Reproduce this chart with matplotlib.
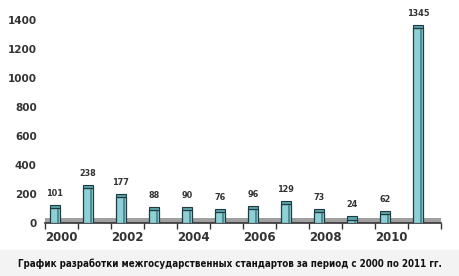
import matplotlib
matplotlib.use("Agg")
import matplotlib.pyplot as plt
from matplotlib.patches import Rectangle

years = [2000, 2001, 2002, 2003, 2004, 2005, 2006, 2007, 2008, 2009, 2010, 2011]
values = [101, 238, 177, 88, 90, 76, 96, 129, 73, 24, 62, 1345]
value_labels = ["101", "238", "177", "88", "90", "76", "96", "129", "73", "24", "62", "1345"]
yticks = [0, 200, 400, 600, 800, 1000, 1200, 1400]
xtick_years = [2000, 2002, 2004, 2006, 2008, 2010]
title = "График разработки межгосударственных стандартов за период с 2000 по 2011 гг."

fig = plt.figure(figsize=(4.59, 2.76), dpi=100)
fig.patches.append(Rectangle((0, 0), 1, 0.095, transform=fig.transFigure,
                             color="#f3f3f3", zorder=0))
ax = fig.add_axes([0.098, 0.192, 0.863, 0.778])

idx = list(range(len(years)))
xs = [i - 0.2 for i in idx]

ax.axhspan(0, 32, xmin=0, xmax=1, color="#a0a0a0", zorder=1, lw=0)

ax.bar(xs, values, width=0.3, color="#8dd0d6", edgecolor="#1f3b3f", lw=0.9, zorder=3)
ax.bar([x + 0.1 for x in xs], values, width=0.07, color="#4f8e94", lw=0, zorder=4)
ax.bar(xs, [22] * len(values), bottom=values, width=0.3, color="#5aa3aa",
       edgecolor="#1f3b3f", lw=0.8, zorder=4)

for x, v, lab in zip(xs, values, value_labels):
    ax.text(x, v + 70, lab, ha="center", va="bottom", fontsize=6.5,
            fontweight="bold", color="#333333", family="DejaVu Sans",
            fontstretch="condensed", zorder=5)

ax.set_xlim(-0.5, len(years) - 0.5)
ax.set_ylim(0, 1480)

ax.set_yticks(yticks)
ax.set_yticklabels([str(t) for t in yticks], fontsize=7.5, fontweight="bold",
                   color="#333333", family="DejaVu Sans")
ax.tick_params(axis="y", length=0, pad=6)

ax.set_xticks([i - 0.5 for i in range(len(years) + 1)], minor=True)
ax.set_xticks([years.index(y) for y in xtick_years])
ax.set_xticklabels([str(y) for y in xtick_years], fontsize=8.5, fontweight="bold",
                   color="#333333", family="DejaVu Sans")
ax.tick_params(axis="x", which="major", length=0, pad=6)
ax.tick_params(axis="x", which="minor", length=4, width=1, color="#333333", direction="out")

for s in ["top", "right", "left"]:
    ax.spines[s].set_visible(False)
ax.spines["bottom"].set_color("#333333")
ax.spines["bottom"].set_linewidth(1.2)

fig.text(0.5, 0.045, title, ha="center", va="center", fontsize=7.0, fontweight="bold",
         family="DejaVu Sans", fontstretch="condensed", color="#111111")

fig.savefig("out.png", dpi=100)
